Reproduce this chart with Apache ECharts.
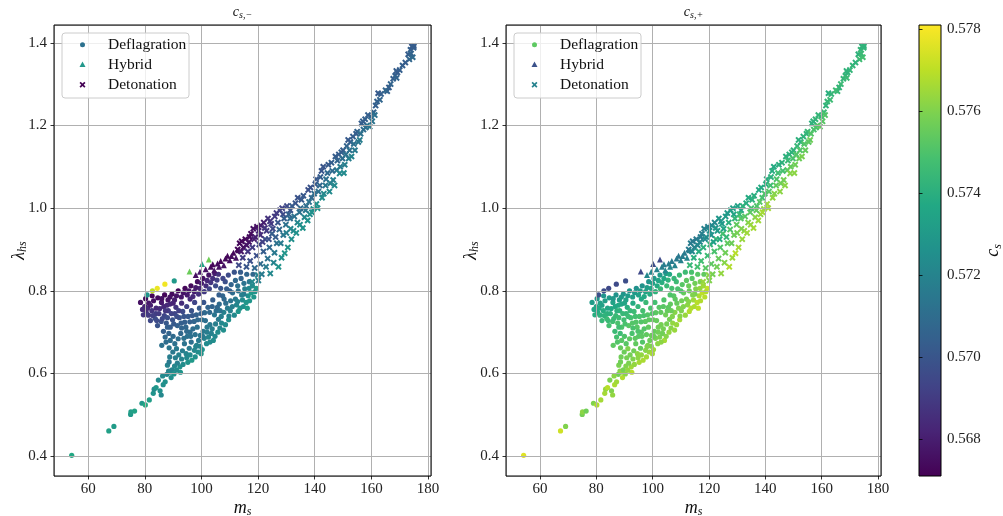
<!DOCTYPE html>
<html>
<head>
<meta charset="utf-8">
<script src="https://cdn.jsdelivr.net/npm/echarts@6/dist/echarts.min.js"></script>
<style>html,body{margin:0;padding:0;background:#fff}#c{width:1003px;height:516px}</style>
</head>
<body>
<div id="c"></div>
<script>
// ---- data: [m_s, lambda_hs, c_s,-, c_s,+] ----
const deflagration = [
[54.2,0.402,0.5737,0.5776],[67.3,0.461,0.5733,0.5773],[69.1,0.472,0.5731,0.5760],[75.0,0.501,0.5730,0.5758],
[75.1,0.507,0.5732,0.5762],[76.4,0.509,0.5734,0.5757],[79.0,0.528,0.5729,0.5760],[80.2,0.524,0.5738,0.5768],
[81.6,0.536,0.5732,0.5766],
[83.0,0.552,0.5727,0.5766],[83.3,0.562,0.5724,0.5764],[84.0,0.566,0.5729,0.5769],[85.4,0.558,0.5726,0.5760],
[85.8,0.548,0.5722,0.5763],[86.5,0.573,0.5725,0.5767],[84.8,0.584,0.5723,0.5759],[87.2,0.580,0.5726,0.5765],
[87.8,0.598,0.5721,0.5757],[88.4,0.606,0.5719,0.5761],[89.0,0.603,0.5723,0.5763],[89.6,0.609,0.5720,0.5758],
[89.3,0.590,0.5725,0.5768],[90.3,0.599,0.5727,0.5762],[92.4,0.616,0.5726,0.5765],[92.6,0.603,0.5728,0.5769],
[93.5,0.622,0.5724,0.5763],[95.2,0.627,0.5727,0.5766],[96.6,0.632,0.5730,0.5767],[91.5,0.625,0.5718,0.5759],
[88.8,0.640,0.5717,0.5757],[89.9,0.652,0.5715,0.5756],[91.2,0.660,0.5716,0.5760],[90.6,0.672,0.5712,0.5752],
[92.0,0.645,0.5719,0.5758],[93.3,0.655,0.5717,0.5757],[94.6,0.648,0.5720,0.5762],[95.7,0.661,0.5716,0.5755],
[94.0,0.672,0.5713,0.5754],[96.4,0.676,0.5711,0.5751],[97.5,0.656,0.5722,0.5761],[98.8,0.652,0.5724,0.5763],
[99.5,0.666,0.5721,0.5760],[100.3,0.658,0.5726,0.5765],[101.8,0.672,0.5723,0.5762],[102.5,0.688,0.5721,0.5759],
[104.2,0.680,0.5725,0.5766],[103.5,0.697,0.5719,0.5757],[105.8,0.700,0.5724,0.5763],[87.2,0.688,0.5708,0.5748],
[88.5,0.697,0.5706,0.5746],[86.6,0.702,0.5704,0.5745],[90.0,0.690,0.5709,0.5750],[91.8,0.684,0.5711,0.5753],
[92.7,0.697,0.5708,0.5749],[95.0,0.690,0.5712,0.5752],[97.8,0.694,0.5713,0.5754],[99.0,0.680,0.5716,0.5756],
[100.6,0.702,0.5715,0.5755],[97.0,0.708,0.5710,0.5751],
[80.5,0.748,0.5686,0.5738],[80.0,0.762,0.5682,0.5735],[81.3,0.741,0.5690,0.5741],[82.5,0.752,0.5688,0.5739],
[82.0,0.728,0.5695,0.5744],[83.7,0.733,0.5697,0.5746],[84.5,0.716,0.5699,0.5748],[83.9,0.745,0.5691,0.5741],
[85.3,0.757,0.5685,0.5737],[85.8,0.726,0.5698,0.5747],[86.9,0.740,0.5694,0.5745],[87.6,0.722,0.5701,0.5749],
[86.7,0.762,0.5684,0.5736],[88.3,0.752,0.5690,0.5742],[89.0,0.712,0.5703,0.5750],[89.8,0.730,0.5699,0.5747],
[90.6,0.745,0.5694,0.5744],[91.5,0.716,0.5705,0.5752],[92.2,0.735,0.5700,0.5748],[91.0,0.760,0.5688,0.5740],
[93.4,0.750,0.5696,0.5746],[94.1,0.724,0.5704,0.5751],[95.3,0.738,0.5702,0.5749],[94.8,0.762,0.5692,0.5743],
[96.5,0.752,0.5699,0.5748],[97.4,0.726,0.5707,0.5753],[98.2,0.742,0.5705,0.5751],[97.6,0.772,0.5694,0.5745],
[99.3,0.758,0.5702,0.5749],[100.2,0.730,0.5711,0.5755],[101.1,0.747,0.5709,0.5753],[100.8,0.772,0.5700,0.5748],
[102.3,0.760,0.5706,0.5752],[103.0,0.718,0.5716,0.5758],[104.6,0.742,0.5714,0.5757],[105.2,0.752,0.5711,0.5755],
[104.0,0.778,0.5703,0.5750],[106.3,0.768,0.5709,0.5754],[107.1,0.722,0.5722,0.5763],[107.9,0.748,0.5719,0.5761],
[107.5,0.788,0.5707,0.5752],[109.2,0.758,0.5716,0.5759],[110.3,0.776,0.5713,0.5757],[109.6,0.730,0.5725,0.5766],
[111.6,0.741,0.5723,0.5764],[112.4,0.766,0.5721,0.5762],[111.0,0.795,0.5710,0.5755],[113.6,0.758,0.5727,0.5768],
[114.5,0.778,0.5724,0.5765],[115.8,0.772,0.5729,0.5769],[116.5,0.788,0.5726,0.5767],[117.6,0.795,0.5730,0.5770],
[119.4,0.806,0.5731,0.5771],
[78.5,0.772,0.5676,0.5731],[80.3,0.781,0.5674,0.5729],[81.4,0.770,0.5678,0.5733],[82.6,0.788,0.5673,0.5728],
[83.1,0.776,0.5676,0.5732],[84.6,0.783,0.5674,0.5730],[85.9,0.772,0.5679,0.5734],[87.0,0.790,0.5673,0.5727],
[88.2,0.778,0.5677,0.5731],[89.6,0.792,0.5674,0.5728],[90.5,0.778,0.5680,0.5734],[91.8,0.800,0.5673,0.5727],
[92.9,0.785,0.5678,0.5732],[94.2,0.806,0.5673,0.5726],[95.0,0.790,0.5679,0.5733],[96.3,0.812,0.5674,0.5727],
[97.5,0.798,0.5680,0.5734],[98.6,0.822,0.5675,0.5728],[99.4,0.806,0.5682,0.5736],[100.5,0.830,0.5676,0.5729],
[101.6,0.812,0.5685,0.5738],[102.6,0.838,0.5677,0.5730],[103.3,0.820,0.5688,0.5740],[104.7,0.842,0.5680,0.5731],
[105.5,0.826,0.5692,0.5742],[106.8,0.806,0.5700,0.5748],[108.4,0.822,0.5698,0.5746],[96.0,0.780,0.5684,0.5737],
[93.0,0.770,0.5685,0.5738],
[82.7,0.800,0.5770,0.5697],[84.4,0.806,0.5778,0.5695],[87.1,0.816,0.5779,0.5696],[90.4,0.824,0.5730,0.5697],
[80.8,0.790,0.5728,0.5698],
[112.8,0.812,0.5712,0.5756],[114.0,0.830,0.5706,0.5752],[115.3,0.805,0.5718,0.5760],[116.9,0.822,0.5714,0.5758],
[118.2,0.840,0.5708,0.5754],
[79.2,0.755,0.5684,0.5736],[81.0,0.758,0.5684,0.5737],[82.8,0.740,0.5692,0.5742],[84.2,0.728,0.5696,0.5745],
[85.0,0.745,0.5690,0.5741],[86.2,0.733,0.5695,0.5745],[87.3,0.752,0.5689,0.5741],[88.0,0.735,0.5697,0.5746],
[88.9,0.768,0.5683,0.5736],[89.4,0.745,0.5693,0.5744],[90.2,0.720,0.5702,0.5749],[91.3,0.738,0.5697,0.5746],
[92.0,0.752,0.5692,0.5744],[92.8,0.722,0.5704,0.5751],[93.8,0.738,0.5700,0.5748],[94.5,0.712,0.5707,0.5752],
[95.9,0.725,0.5705,0.5751],[96.8,0.740,0.5702,0.5749],[98.7,0.730,0.5708,0.5753],[99.8,0.745,0.5705,0.5751],
[101.4,0.728,0.5711,0.5755],[102.9,0.748,0.5709,0.5754],[103.8,0.762,0.5706,0.5752],[106.0,0.731,0.5716,0.5758],
[106.6,0.752,0.5713,0.5756],[108.6,0.770,0.5711,0.5755],[109.7,0.739,0.5720,0.5761],[110.9,0.762,0.5718,0.5760],
[112.0,0.780,0.5715,0.5758],[113.0,0.750,0.5728,0.5768],[114.8,0.762,0.5726,0.5767],[115.0,0.792,0.5716,0.5759],
[116.2,0.758,0.5731,0.5770],[117.0,0.776,0.5728,0.5768],[118.5,0.785,0.5729,0.5769],[118.9,0.798,0.5727,0.5768],
[86.0,0.781,0.5676,0.5730],[88.9,0.785,0.5676,0.5730],[90.0,0.770,0.5682,0.5735],[91.2,0.788,0.5677,0.5731],
[93.6,0.795,0.5677,0.5730],[95.6,0.800,0.5678,0.5731],[97.0,0.786,0.5684,0.5737],[98.0,0.808,0.5679,0.5732],
[99.0,0.792,0.5686,0.5738],[100.0,0.818,0.5680,0.5733],[101.0,0.798,0.5690,0.5742],[102.0,0.825,0.5683,0.5735],
[102.8,0.805,0.5693,0.5744],[104.0,0.830,0.5686,0.5737],[105.0,0.812,0.5696,0.5745],[106.0,0.840,0.5687,0.5737],
[106.2,0.790,0.5704,0.5750],[107.6,0.830,0.5694,0.5743],[108.9,0.805,0.5703,0.5749],[109.5,0.838,0.5696,0.5745],
[110.5,0.815,0.5706,0.5752],[111.6,0.845,0.5699,0.5746],[112.0,0.825,0.5708,0.5753],[113.8,0.845,0.5703,0.5749],
[115.0,0.818,0.5713,0.5757],[116.0,0.840,0.5707,0.5752],
[86.0,0.668,0.5712,0.5753],[87.5,0.676,0.5710,0.5751],[88.6,0.662,0.5714,0.5755],[89.0,0.680,0.5711,0.5752],
[93.8,0.685,0.5712,0.5753],[96.0,0.700,0.5711,0.5752],[98.3,0.668,0.5719,0.5759],[99.6,0.692,0.5715,0.5756],
[101.0,0.685,0.5719,0.5759],[102.0,0.700,0.5717,0.5757],[103.0,0.676,0.5723,0.5762],[104.8,0.690,0.5722,0.5761],
[106.5,0.710,0.5721,0.5761],[107.8,0.705,0.5725,0.5764],[108.5,0.718,0.5724,0.5764],[105.0,0.720,0.5718,0.5758],
[88.0,0.712,0.5704,0.5747],[94.8,0.702,0.5709,0.5750],[98.5,0.712,0.5712,0.5754],[102.0,0.712,0.5716,0.5757],
[86.3,0.594,0.5723,0.5762],[88.0,0.620,0.5720,0.5759],[90.5,0.618,0.5721,0.5760],[90.8,0.638,0.5718,0.5758],
[93.0,0.635,0.5720,0.5760],[94.8,0.638,0.5722,0.5762],[96.0,0.645,0.5723,0.5763],[97.8,0.640,0.5726,0.5766],
[98.0,0.665,0.5720,0.5760],[99.9,0.648,0.5727,0.5766],[88.6,0.628,0.5716,0.5757],[91.2,0.608,0.5724,0.5763],
[100.5,0.690,0.5716,0.5756],[103.8,0.708,0.5718,0.5758],[107.0,0.738,0.5718,0.5760],[110.2,0.752,0.5719,0.5760],
[112.8,0.774,0.5720,0.5761],[114.2,0.790,0.5718,0.5760],[116.8,0.806,0.5722,0.5763],[118.0,0.812,0.5724,0.5765],
[96.2,0.690,0.5712,0.5753],[93.0,0.710,0.5706,0.5749],[84.0,0.758,0.5683,0.5735],[82.0,0.765,0.5680,0.5733],
[79.5,0.742,0.5688,0.5739],[87.8,0.765,0.5684,0.5737],[105.6,0.760,0.5708,0.5753],[108.0,0.780,0.5708,0.5753],
[110.0,0.800,0.5704,0.5750],[113.0,0.800,0.5712,0.5756]
];
const hybrid = [
[95.8,0.847,0.5756,0.5695],[100.2,0.865,0.5735,0.5697],[102.6,0.876,0.5757,0.5696],[101.5,0.852,0.5676,0.5720],
[103.3,0.858,0.5674,0.5718],[104.5,0.850,0.5677,0.5722],[105.7,0.866,0.5674,0.5717],[106.8,0.872,0.5673,0.5716],
[107.9,0.862,0.5676,0.5720],[109.2,0.885,0.5673,0.5715],[110.0,0.874,0.5675,0.5719],[111.3,0.892,0.5673,0.5716],
[112.2,0.880,0.5676,0.5720],[113.0,0.898,0.5674,0.5718],
[104.0,0.864,0.5673,0.5717],[108.5,0.878,0.5673,0.5716],[110.6,0.884,0.5674,0.5717],[106.2,0.858,0.5676,0.5721],
[98.0,0.838,0.5676,0.5722],[99.5,0.846,0.5678,0.5721]
];
const detonation = [
[113.5,0.915,0.5673,0.5717],[114.8,0.905,0.5675,0.5720],[115.5,0.925,0.5673,0.5716],[116.8,0.918,0.5676,0.5721],
[117.5,0.938,0.5674,0.5718],[118.3,0.950,0.5676,0.5719],[119.0,0.930,0.5680,0.5724],[120.2,0.945,0.5682,0.5726],
[121.0,0.958,0.5680,0.5723],[122.4,0.952,0.5686,0.5728],[123.5,0.975,0.5687,0.5729],[124.6,0.962,0.5691,0.5732],
[125.9,0.980,0.5690,0.5731],[127.7,0.995,0.5693,0.5733],[128.8,0.985,0.5696,0.5735],[130.2,1.005,0.5696,0.5734],
[131.4,0.995,0.5699,0.5737],
[113.2,0.862,0.5695,0.5744],[114.6,0.880,0.5690,0.5740],[115.9,0.858,0.5700,0.5748],[116.4,0.895,0.5688,0.5739],
[117.2,0.872,0.5698,0.5747],[118.0,0.905,0.5690,0.5741],[118.8,0.855,0.5708,0.5752],[119.5,0.885,0.5698,0.5746],
[120.1,0.825,0.5718,0.5760],[120.4,0.912,0.5694,0.5743],[120.8,0.865,0.5709,0.5753],[121.3,0.840,0.5716,0.5758],
[121.9,0.895,0.5703,0.5749],[122.5,0.925,0.5698,0.5745],[122.8,0.858,0.5716,0.5757],[123.4,0.878,0.5712,0.5755],
[124.0,0.905,0.5708,0.5751],[124.3,0.842,0.5722,0.5763],[124.9,0.938,0.5703,0.5748],[125.5,0.868,0.5720,0.5761],
[125.8,0.892,0.5715,0.5757],[126.6,0.915,0.5712,0.5754],[127.2,0.858,0.5727,0.5768],[127.5,0.948,0.5708,0.5751],
[128.3,0.880,0.5725,0.5765],[128.9,0.935,0.5714,0.5756],[129.4,0.891,0.5728,0.5769],[129.8,0.960,0.5712,0.5754],
[130.5,0.905,0.5727,0.5766],[131.3,0.975,0.5710,0.5752],[131.8,0.925,0.5725,0.5764],[119.9,0.838,0.5720,0.5762],
[117.9,0.822,0.5722,0.5764],
[132.5,0.945,0.5724,0.5763],[133.2,1.012,0.5700,0.5739],[133.9,0.965,0.5720,0.5760],[134.6,0.990,0.5712,0.5753],
[135.3,1.020,0.5702,0.5741],[135.8,0.952,0.5727,0.5766],[136.4,0.978,0.5721,0.5761],[137.0,1.005,0.5710,0.5750],
[137.7,1.044,0.5698,0.5737],[138.3,0.985,0.5724,0.5763],[138.9,1.025,0.5708,0.5748],[139.5,0.998,0.5725,0.5764],
[140.2,1.058,0.5702,0.5740],[140.6,1.010,0.5726,0.5765],[141.3,1.040,0.5712,0.5752],[142.0,1.075,0.5703,0.5741],
[142.6,1.025,0.5724,0.5763],[143.0,1.100,0.5700,0.5738],[143.8,1.055,0.5715,0.5754],[144.5,1.085,0.5708,0.5747],
[145.2,1.040,0.5723,0.5762],[145.9,1.110,0.5704,0.5742],[146.5,1.068,0.5719,0.5758],[147.3,1.125,0.5703,0.5741],
[147.8,1.092,0.5714,0.5753],[148.8,1.084,0.5722,0.5761],[149.4,1.135,0.5705,0.5743],[150.0,1.140,0.5703,0.5742],
[150.6,1.105,0.5718,0.5757],
[151.3,1.150,0.5706,0.5744],[152.0,1.120,0.5717,0.5756],[152.6,1.160,0.5705,0.5743],[153.5,1.173,0.5704,0.5742],
[154.2,1.140,0.5716,0.5755],[155.0,1.185,0.5706,0.5745],[155.9,1.165,0.5718,0.5757],[156.5,1.205,0.5703,0.5741],
[157.2,1.190,0.5710,0.5749],[157.8,1.215,0.5705,0.5744],[158.5,1.200,0.5712,0.5751],[159.4,1.197,0.5716,0.5754],
[159.8,1.222,0.5707,0.5746],[160.3,1.210,0.5713,0.5752],[161.5,1.248,0.5704,0.5742],[162.4,1.278,0.5702,0.5740],
[163.0,1.262,0.5707,0.5746],[165.6,1.283,0.5705,0.5744],[166.2,1.292,0.5703,0.5742],[166.8,1.300,0.5706,0.5745],
[168.4,1.320,0.5705,0.5743],[169.2,1.328,0.5703,0.5742],[170.0,1.334,0.5704,0.5743],[173.0,1.372,0.5703,0.5741],
[173.8,1.383,0.5705,0.5744],[174.3,1.391,0.5702,0.5741],[174.9,1.388,0.5704,0.5743],[173.4,1.360,0.5707,0.5746],
[174.6,1.365,0.5709,0.5748],
[112.8,0.900,0.5673,0.5716],[114.2,0.920,0.5673,0.5716],[114.0,0.895,0.5678,0.5722],[116.0,0.910,0.5677,0.5721],
[117.0,0.930,0.5674,0.5717],[118.6,0.925,0.5680,0.5723],[119.6,0.955,0.5676,0.5719],[120.8,0.935,0.5685,0.5727],
[121.6,0.918,0.5692,0.5733],[122.0,0.965,0.5680,0.5722],[123.0,0.945,0.5690,0.5731],[123.8,0.925,0.5698,0.5739],
[124.2,0.968,0.5688,0.5729],[125.2,0.950,0.5695,0.5736],[126.2,0.930,0.5703,0.5744],[126.5,0.988,0.5690,0.5730],
[127.0,0.965,0.5700,0.5740],[128.0,0.915,0.5716,0.5756],[128.5,1.000,0.5693,0.5733],[129.2,0.975,0.5703,0.5743],
[130.0,0.940,0.5718,0.5758],[130.8,0.985,0.5705,0.5745],[131.5,0.950,0.5721,0.5760],[132.0,1.005,0.5702,0.5741],
[132.8,0.980,0.5712,0.5752],[133.5,0.940,0.5726,0.5765],[134.0,1.025,0.5699,0.5738],[134.8,0.960,0.5725,0.5764],
[135.0,1.000,0.5708,0.5748],[136.0,1.030,0.5701,0.5740],[136.8,0.995,0.5715,0.5755],[137.5,0.970,0.5726,0.5765],
[138.0,1.015,0.5712,0.5752],[138.5,1.050,0.5699,0.5738],[139.0,0.990,0.5726,0.5766],[139.8,1.035,0.5710,0.5750],
[140.5,1.070,0.5701,0.5740],[141.0,1.000,0.5727,0.5766],[141.8,1.055,0.5708,0.5747],[142.4,1.090,0.5700,0.5739],
[143.2,1.035,0.5722,0.5761],[144.0,1.070,0.5711,0.5750],[144.8,1.105,0.5702,0.5740],[145.5,1.060,0.5718,0.5757],
[146.2,1.090,0.5709,0.5748],[147.0,1.055,0.5723,0.5762],[148.0,1.115,0.5706,0.5745],[148.5,1.130,0.5703,0.5741],
[149.0,1.100,0.5716,0.5755],[149.8,1.120,0.5710,0.5749],[150.3,1.085,0.5723,0.5762],[151.0,1.130,0.5712,0.5751],
[151.8,1.165,0.5702,0.5741],[152.3,1.140,0.5712,0.5751],[153.0,1.125,0.5720,0.5759],[153.8,1.155,0.5712,0.5751],
[154.6,1.180,0.5704,0.5743],[155.4,1.160,0.5714,0.5753],[156.2,1.180,0.5712,0.5751],[157.0,1.210,0.5704,0.5742],
[158.0,1.195,0.5711,0.5750],[158.8,1.225,0.5704,0.5743],[160.8,1.232,0.5706,0.5745],[161.2,1.225,0.5712,0.5751],
[162.0,1.258,0.5705,0.5744],[163.4,1.276,0.5704,0.5743],[165.0,1.285,0.5707,0.5746],[167.7,1.313,0.5704,0.5743],
[168.9,1.315,0.5706,0.5745],[168.8,1.332,0.5703,0.5742],[171.0,1.345,0.5704,0.5743],[172.0,1.352,0.5703,0.5742],
[174.0,1.374,0.5706,0.5745],[175.0,1.392,0.5703,0.5742]
];
const seriesNames = ['Deflagration','Hybrid','Detonation'];
const panelTitles = [['c','s,\u2212'],['c','s,+']];
const xRange = [47.95, 181.05];
const yRange = [0.352, 1.443];
const csRange = [0.5671, 0.5781];

const viridis = ['#440154','#482475','#414487','#355f8d','#2a788e','#21918c','#22a884','#44bf70','#7ad151','#bddf26','#fde725'];
const FONT = '"Liberation Serif", "DejaVu Serif", serif';

const chart = echarts.init(document.getElementById('c'), null, {renderer:'canvas'});

const grids = [
  {left:54, top:25, width:377, height:451},
  {left:506, top:25, width:375, height:451},
  {left:919, top:25, width:22, height:451}
];

const richName = {i:{fontFamily:FONT, fontStyle:'italic', fontSize:18, color:'#111', lineHeight:20}, s:{fontFamily:FONT, fontStyle:'italic', fontSize:12, color:'#111', verticalAlign:'bottom', lineHeight:20, padding:[4,0,0,0]}};

function xAx(i){
  return {gridIndex:i, type:'value', min:xRange[0], max:xRange[1], splitNumber:6, z:5,
    axisLine:{show:false},
    axisTick:{show:true, length:3.5, lineStyle:{color:'#000', width:0.8}},
    axisLabel:{color:'#222', fontSize:15, fontFamily:FONT, margin:6, showMinLabel:false, showMaxLabel:false},
    splitLine:{show:true, lineStyle:{color:'#b0b0b0', width:1}},
    name:'{i|m}{s|s}', nameLocation:'middle', nameGap:22, nameMoveOverlap:false,
    nameTextStyle:{rich:richName}
  };
}
function yAx(i){
  return {gridIndex:i, type:'value', min:yRange[0], max:yRange[1], splitNumber:5, z:5,
    axisLine:{show:false},
    axisTick:{show:true, length:3.5, lineStyle:{color:'#000', width:0.8}},
    axisLabel:{color:'#222', fontSize:15, fontFamily:FONT, margin:7, showMinLabel:false, showMaxLabel:false, formatter:v=>v.toFixed(1)},
    splitLine:{show:true, lineStyle:{color:'#b0b0b0', width:1}},
    name:'{i|\u03bb}{s|hs}', nameLocation:'middle', nameGap:25, nameRotate:90, nameMoveOverlap:false,
    nameTextStyle:{rich:richName}
  };
}

const crossPath = 'path://M0,2.2L2.2,0L5,2.8L7.8,0L10,2.2L7.2,5L10,7.8L7.8,10L5,7.2L2.2,10L0,7.8L2.8,5Z';
const groups = [deflagration, hybrid, detonation];
const symbols = ['circle','triangle',crossPath];
const sizes = [5.2,6,6.5];
const series = [];
for (let p=0;p<2;p++){
  groups.forEach((g,k)=>{
    series.push({
      name: seriesNames[k]+(p?' +':' -'), type:'scatter', xAxisIndex:p, yAxisIndex:p,
      symbol:symbols[k], symbolSize:sizes[k], z:2,
      data: g.map(r=>[r[0], r[1], r[2+p]]),
      itemStyle:{opacity:1}, silent:true, animation:false
    });
  });
}

function crossPts(cx, cy){
  const s = 3, t = 1.2;
  return [[cx-s,cy-s+t],[cx-s+t,cy-s],[cx,cy-t],[cx+s-t,cy-s],[cx+s,cy-s+t],[cx+t,cy],
          [cx+s,cy+s-t],[cx+s-t,cy+s],[cx,cy+t],[cx-s+t,cy+s],[cx-s,cy+s-t],[cx-t,cy]];
}

const legendColors = [['#2c718e','#23988b','#440154'],['#5ec962','#3b528b','#26828e']];
const graphics = [];
[0,1].forEach(i=>{
  const g = grids[i];
  graphics.push({type:'rect', z:50, silent:true, shape:{x:g.left, y:g.top, width:g.width, height:g.height},
    style:{fill:null, stroke:'#000', lineWidth:1}});
  graphics.push({type:'text', z:50, silent:true, x:g.left+g.width/2, y:5,
    style:{text:'{i|'+panelTitles[i][0]+'}{s|'+panelTitles[i][1]+'}', align:'center', verticalAlign:'top',
      rich:{i:{fontFamily:FONT, fontStyle:'italic', fontSize:14, fill:'#111'}, s:{fontFamily:FONT, fontStyle:'italic', fontSize:10, fill:'#111', verticalAlign:'bottom', padding:[5,0,0,0]}}}});
  const lx = g.left+8, ly = 33;
  graphics.push({type:'rect', z:60, silent:true, shape:{x:lx, y:ly, width:127, height:65, r:3},
    style:{fill:'rgba(255,255,255,0.8)', stroke:'#cccccc', lineWidth:1}});
  const cols = legendColors[i];
  const mx = lx+20.5;
  [44.7,64.7,84.7].forEach((yy,k)=>{
    if(k===0) graphics.push({type:'circle', z:61, silent:true, shape:{cx:mx, cy:yy, r:2.5}, style:{fill:cols[0]}});
    if(k===1) graphics.push({type:'polygon', z:61, silent:true, shape:{points:[[mx,yy-3.2],[mx+3,yy+2.3],[mx-3,yy+2.3]]}, style:{fill:cols[1]}});
    if(k===2) graphics.push({type:'polygon', z:61, silent:true, shape:{points:crossPts(mx,yy)}, style:{fill:cols[2]}});
    graphics.push({type:'text', z:61, silent:true, x:lx+46, y:yy,
      style:{text:seriesNames[k], fontFamily:FONT, fontSize:15.5, fill:'#111', verticalAlign:'middle', align:'left'}});
  });
});
const cb = grids[2];
graphics.push({type:'rect', z:40, silent:true, shape:{x:cb.left, y:cb.top, width:cb.width, height:cb.height},
  style:{fill:new echarts.graphic.LinearGradient(0,1,0,0, viridis.map((c,i)=>({offset:i/(viridis.length-1), color:c}))),
    stroke:'#000', lineWidth:1}});

const option = {
  animation:false,
  backgroundColor:'#fff',
  grid: grids.map(g=>Object.assign({containLabel:false, outerBoundsMode:'none'}, g)),
  xAxis: [xAx(0), xAx(1), {gridIndex:2, type:'value', min:0, max:1, show:false}],
  yAxis: [yAx(0), yAx(1), {gridIndex:2, type:'value', position:'right', min:csRange[0], max:csRange[1], splitNumber:5, z:45,
    axisLine:{show:false}, splitLine:{show:false},
    axisTick:{show:true, length:3.5, lineStyle:{color:'#000', width:0.8}},
    axisLabel:{color:'#222', fontSize:15, fontFamily:FONT, margin:6, showMinLabel:false, showMaxLabel:false, formatter:v=>v.toFixed(3)},
    name:'{i|c}{s|s}', nameLocation:'middle', nameGap:42, nameRotate:90,
    nameTextStyle:{rich:richName}
  }],
  visualMap: {type:'continuous', show:false, min:csRange[0], max:csRange[1], dimension:2, seriesIndex:[0,1,2,3,4,5], inRange:{color:viridis}},
  series: series,
  graphic: graphics
};
chart.setOption(option);
</script>
</body>
</html>
